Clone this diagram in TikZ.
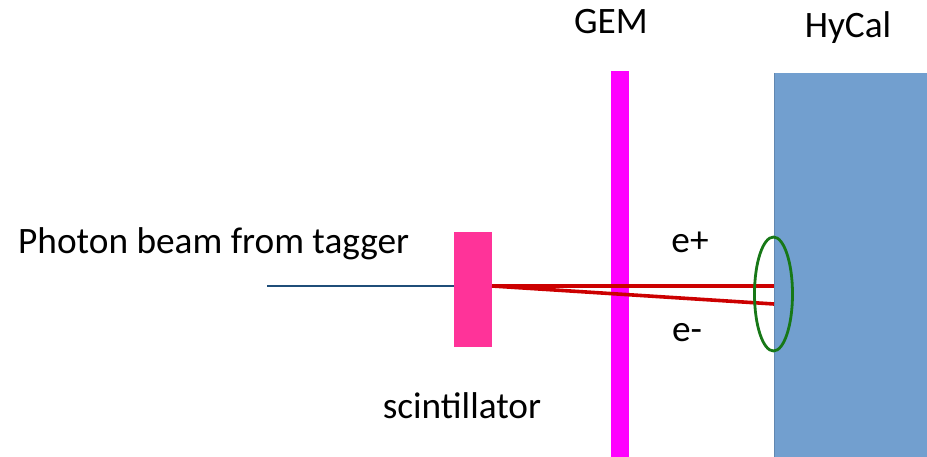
\documentclass[tikz,border=0pt]{standalone}
\usepackage{fontspec}
\setmainfont{Carlito}
\usetikzlibrary{shapes.geometric}
\definecolor{beamblue}{HTML}{1F4E79}
\definecolor{scintpink}{HTML}{FF3399}
\definecolor{gemmag}{HTML}{FF00FF}
\definecolor{hycalblue}{HTML}{729FCF}
\definecolor{trackred}{HTML}{CC0000}
\definecolor{ringgreen}{HTML}{177817}
\begin{document}
\begin{tikzpicture}[x=1pt,y=-1pt,
  lbl/.style={font=\fontsize{37.3}{40}\selectfont, inner sep=0pt},
  track/.style={trackred, line width=3.6pt}]
\useasboundingbox (0,0) rectangle (927,457);
% detectors
\fill[hycalblue] (774,73) rectangle (927,457);
\draw[hycalblue!85!black, line width=0.8pt] (774.4,73) -- (774.4,457);
\fill[gemmag] (611,71) rectangle (629,457);
\node[fill=scintpink, minimum width=38pt, minimum height=115pt, inner sep=0pt] (scint) at (473,289.5) {};
% beam and tracks
\coordinate (beamstart) at (267,286);
\coordinate (vtx) at (492,286);
\coordinate (epos) at (774,286);
\coordinate (eneg) at (774,304);
\draw[beamblue, line width=2.4pt] (beamstart) -- (scint.west |- beamstart);
\draw[track] (vtx) -- (epos);
\draw[track] (vtx) -- (eneg);
% acceptance ring
\node[draw=ringgreen, line width=2.8pt, ellipse, minimum width=38pt, minimum height=114pt, inner sep=0pt] (ring) at (773.5,294) {};
% labels
\node[lbl] (gem) at (611,22) {GEM};
\node[lbl] (hycal) at (848,28) {HyCal};
\node[lbl, anchor=west] (beam) at (18,244) {Photon beam from tagger};
\node[lbl] (sc) at (462,406) {scintillator};
\node[lbl] (ep) at (690,242) {e+};
\node[lbl] (em) at (687,333) {e-};
\end{tikzpicture}
\end{document}
